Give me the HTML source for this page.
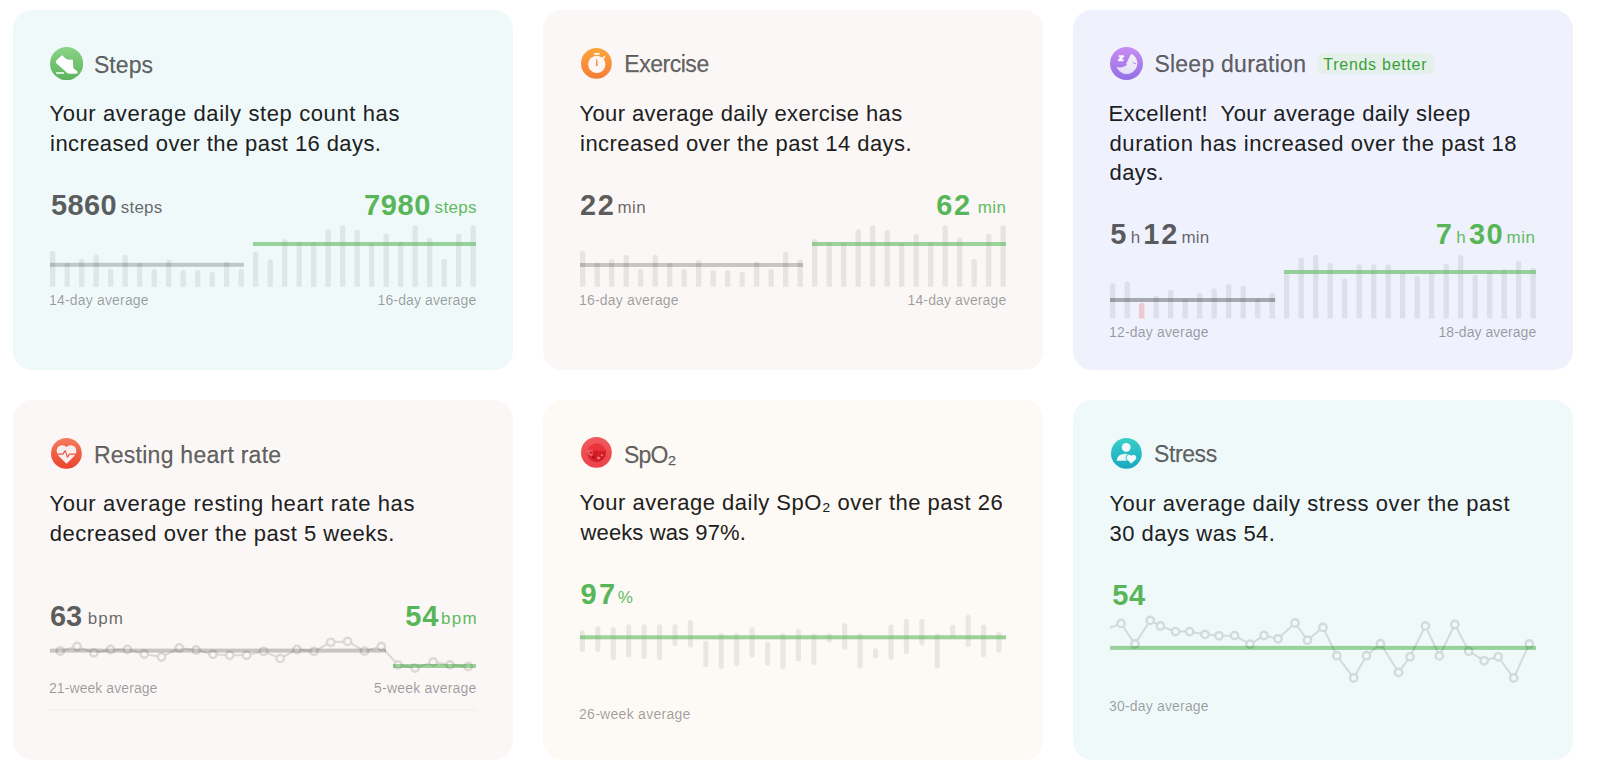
<!DOCTYPE html>
<html><head><meta charset="utf-8"><title>Health trends</title>
<style>
html,body{margin:0;padding:0;background:#fff;}
body{width:1597px;height:773px;position:relative;overflow:hidden;font-family:'Liberation Sans', sans-serif;}
.card{position:absolute;width:500px;height:360px;border-radius:19px;}
.t{position:absolute;white-space:pre;line-height:1;font-family:'Liberation Sans', sans-serif;}
.ic{position:absolute;}
.badge{position:absolute;left:1317.7px;top:52.5px;width:116px;height:21.5px;border-radius:5px;background:#e6f0ea;}
svg.ch{position:absolute;left:0;top:0;}
</style></head><body>
<div class="card" style="left:13px;top:10px;background:#f0f9fa"></div>
<div class="card" style="left:543px;top:10px;background:#faf7f6"></div>
<div class="card" style="left:1073px;top:10px;background:#eff1fd"></div>
<div class="card" style="left:13px;top:400px;background:#faf7f6"></div>
<div class="card" style="left:543px;top:400px;background:#fdf9f4"></div>
<div class="card" style="left:1073px;top:400px;background:#f0f9fa"></div>
<div class="badge"></div>
<svg class="ch" width="1597" height="773" viewBox="0 0 1597 773">
<path d="M50.00 286.80V253.40A2.70 2.70 0 0 1 55.40 253.40V286.80Z" fill="rgba(0,0,0,0.075)"/>
<path d="M64.50 286.80V265.10A2.70 2.70 0 0 1 69.90 265.10V286.80Z" fill="rgba(0,0,0,0.075)"/>
<path d="M79.00 286.80V261.50A2.70 2.70 0 0 1 84.40 261.50V286.80Z" fill="rgba(0,0,0,0.075)"/>
<path d="M93.50 286.80V257.50A2.70 2.70 0 0 1 98.90 257.50V286.80Z" fill="rgba(0,0,0,0.075)"/>
<path d="M108.00 286.80V271.50A2.70 2.70 0 0 1 113.40 271.50V286.80Z" fill="rgba(0,0,0,0.075)"/>
<path d="M122.50 286.80V257.50A2.70 2.70 0 0 1 127.90 257.50V286.80Z" fill="rgba(0,0,0,0.075)"/>
<path d="M137.00 286.80V265.10A2.70 2.70 0 0 1 142.40 265.10V286.80Z" fill="rgba(0,0,0,0.075)"/>
<path d="M151.50 286.80V271.50A2.70 2.70 0 0 1 156.90 271.50V286.80Z" fill="rgba(0,0,0,0.075)"/>
<path d="M166.00 286.80V262.40A2.70 2.70 0 0 1 171.40 262.40V286.80Z" fill="rgba(0,0,0,0.075)"/>
<path d="M180.50 286.80V272.70A2.70 2.70 0 0 1 185.90 272.70V286.80Z" fill="rgba(0,0,0,0.075)"/>
<path d="M195.00 286.80V272.70A2.70 2.70 0 0 1 200.40 272.70V286.80Z" fill="rgba(0,0,0,0.075)"/>
<path d="M209.50 286.80V274.50A2.70 2.70 0 0 1 214.90 274.50V286.80Z" fill="rgba(0,0,0,0.075)"/>
<path d="M224.00 286.80V264.20A2.70 2.70 0 0 1 229.40 264.20V286.80Z" fill="rgba(0,0,0,0.075)"/>
<path d="M238.50 286.80V271.50A2.70 2.70 0 0 1 243.90 271.50V286.80Z" fill="rgba(0,0,0,0.075)"/>
<path d="M253.00 286.80V254.30A2.70 2.70 0 0 1 258.40 254.30V286.80Z" fill="rgba(0,0,0,0.075)"/>
<path d="M267.50 286.80V262.00A2.70 2.70 0 0 1 272.90 262.00V286.80Z" fill="rgba(0,0,0,0.075)"/>
<path d="M282.00 286.80V241.60A2.70 2.70 0 0 1 287.40 241.60V286.80Z" fill="rgba(0,0,0,0.075)"/>
<path d="M296.50 286.80V244.30A2.70 2.70 0 0 1 301.90 244.30V286.80Z" fill="rgba(0,0,0,0.075)"/>
<path d="M311.00 286.80V244.80A2.70 2.70 0 0 1 316.40 244.80V286.80Z" fill="rgba(0,0,0,0.075)"/>
<path d="M325.50 286.80V232.00A2.70 2.70 0 0 1 330.90 232.00V286.80Z" fill="rgba(0,0,0,0.075)"/>
<path d="M340.00 286.80V228.00A2.70 2.70 0 0 1 345.40 228.00V286.80Z" fill="rgba(0,0,0,0.075)"/>
<path d="M354.50 286.80V232.50A2.70 2.70 0 0 1 359.90 232.50V286.80Z" fill="rgba(0,0,0,0.075)"/>
<path d="M369.00 286.80V245.20A2.70 2.70 0 0 1 374.40 245.20V286.80Z" fill="rgba(0,0,0,0.075)"/>
<path d="M383.50 286.80V236.50A2.70 2.70 0 0 1 388.90 236.50V286.80Z" fill="rgba(0,0,0,0.075)"/>
<path d="M398.00 286.80V244.30A2.70 2.70 0 0 1 403.40 244.30V286.80Z" fill="rgba(0,0,0,0.075)"/>
<path d="M412.50 286.80V228.00A2.70 2.70 0 0 1 417.90 228.00V286.80Z" fill="rgba(0,0,0,0.075)"/>
<path d="M427.00 286.80V240.30A2.70 2.70 0 0 1 432.40 240.30V286.80Z" fill="rgba(0,0,0,0.075)"/>
<path d="M441.50 286.80V261.50A2.70 2.70 0 0 1 446.90 261.50V286.80Z" fill="rgba(0,0,0,0.075)"/>
<path d="M456.00 286.80V236.10A2.70 2.70 0 0 1 461.40 236.10V286.80Z" fill="rgba(0,0,0,0.075)"/>
<path d="M470.50 286.80V228.00A2.70 2.70 0 0 1 475.90 228.00V286.80Z" fill="rgba(0,0,0,0.075)"/>
<path d="M580.00 286.80V253.40A2.70 2.70 0 0 1 585.40 253.40V286.80Z" fill="rgba(0,0,0,0.075)"/>
<path d="M594.50 286.80V265.10A2.70 2.70 0 0 1 599.90 265.10V286.80Z" fill="rgba(0,0,0,0.075)"/>
<path d="M609.00 286.80V261.50A2.70 2.70 0 0 1 614.40 261.50V286.80Z" fill="rgba(0,0,0,0.075)"/>
<path d="M623.50 286.80V257.50A2.70 2.70 0 0 1 628.90 257.50V286.80Z" fill="rgba(0,0,0,0.075)"/>
<path d="M638.00 286.80V271.50A2.70 2.70 0 0 1 643.40 271.50V286.80Z" fill="rgba(0,0,0,0.075)"/>
<path d="M652.50 286.80V257.50A2.70 2.70 0 0 1 657.90 257.50V286.80Z" fill="rgba(0,0,0,0.075)"/>
<path d="M667.00 286.80V265.10A2.70 2.70 0 0 1 672.40 265.10V286.80Z" fill="rgba(0,0,0,0.075)"/>
<path d="M681.50 286.80V271.50A2.70 2.70 0 0 1 686.90 271.50V286.80Z" fill="rgba(0,0,0,0.075)"/>
<path d="M696.00 286.80V262.40A2.70 2.70 0 0 1 701.40 262.40V286.80Z" fill="rgba(0,0,0,0.075)"/>
<path d="M710.50 286.80V272.70A2.70 2.70 0 0 1 715.90 272.70V286.80Z" fill="rgba(0,0,0,0.075)"/>
<path d="M725.00 286.80V272.70A2.70 2.70 0 0 1 730.40 272.70V286.80Z" fill="rgba(0,0,0,0.075)"/>
<path d="M739.50 286.80V274.50A2.70 2.70 0 0 1 744.90 274.50V286.80Z" fill="rgba(0,0,0,0.075)"/>
<path d="M754.00 286.80V264.20A2.70 2.70 0 0 1 759.40 264.20V286.80Z" fill="rgba(0,0,0,0.075)"/>
<path d="M768.50 286.80V271.50A2.70 2.70 0 0 1 773.90 271.50V286.80Z" fill="rgba(0,0,0,0.075)"/>
<path d="M783.00 286.80V254.30A2.70 2.70 0 0 1 788.40 254.30V286.80Z" fill="rgba(0,0,0,0.075)"/>
<path d="M797.50 286.80V262.00A2.70 2.70 0 0 1 802.90 262.00V286.80Z" fill="rgba(0,0,0,0.075)"/>
<path d="M812.00 286.80V241.60A2.70 2.70 0 0 1 817.40 241.60V286.80Z" fill="rgba(0,0,0,0.075)"/>
<path d="M826.50 286.80V244.30A2.70 2.70 0 0 1 831.90 244.30V286.80Z" fill="rgba(0,0,0,0.075)"/>
<path d="M841.00 286.80V244.80A2.70 2.70 0 0 1 846.40 244.80V286.80Z" fill="rgba(0,0,0,0.075)"/>
<path d="M855.50 286.80V232.00A2.70 2.70 0 0 1 860.90 232.00V286.80Z" fill="rgba(0,0,0,0.075)"/>
<path d="M870.00 286.80V228.00A2.70 2.70 0 0 1 875.40 228.00V286.80Z" fill="rgba(0,0,0,0.075)"/>
<path d="M884.50 286.80V232.50A2.70 2.70 0 0 1 889.90 232.50V286.80Z" fill="rgba(0,0,0,0.075)"/>
<path d="M899.00 286.80V245.20A2.70 2.70 0 0 1 904.40 245.20V286.80Z" fill="rgba(0,0,0,0.075)"/>
<path d="M913.50 286.80V236.50A2.70 2.70 0 0 1 918.90 236.50V286.80Z" fill="rgba(0,0,0,0.075)"/>
<path d="M928.00 286.80V244.30A2.70 2.70 0 0 1 933.40 244.30V286.80Z" fill="rgba(0,0,0,0.075)"/>
<path d="M942.50 286.80V228.00A2.70 2.70 0 0 1 947.90 228.00V286.80Z" fill="rgba(0,0,0,0.075)"/>
<path d="M957.00 286.80V240.30A2.70 2.70 0 0 1 962.40 240.30V286.80Z" fill="rgba(0,0,0,0.075)"/>
<path d="M971.50 286.80V261.50A2.70 2.70 0 0 1 976.90 261.50V286.80Z" fill="rgba(0,0,0,0.075)"/>
<path d="M986.00 286.80V236.10A2.70 2.70 0 0 1 991.40 236.10V286.80Z" fill="rgba(0,0,0,0.075)"/>
<path d="M1000.50 286.80V228.00A2.70 2.70 0 0 1 1005.90 228.00V286.80Z" fill="rgba(0,0,0,0.075)"/>
<rect x="50.00" y="262.80" width="194.00" height="4.00" rx="0" fill="rgba(0,0,0,0.2)"/>
<rect x="253.00" y="242.00" width="223.00" height="4.00" rx="0" fill="rgba(90,185,90,0.6)"/>
<rect x="580.00" y="263.00" width="223.00" height="4.00" rx="0" fill="rgba(0,0,0,0.2)"/>
<rect x="812.00" y="242.00" width="194.00" height="4.00" rx="0" fill="rgba(90,185,90,0.6)"/>
<path d="M1110.00 318.60V285.70A2.70 2.70 0 0 1 1115.40 285.70V318.60Z" fill="rgba(0,0,0,0.075)"/>
<path d="M1124.50 318.60V284.30A2.70 2.70 0 0 1 1129.90 284.30V318.60Z" fill="rgba(0,0,0,0.075)"/>
<path d="M1139.00 318.60V305.50A2.70 2.70 0 0 1 1144.40 305.50V318.60Z" fill="rgba(240,110,110,0.3)"/>
<path d="M1153.50 318.60V298.20A2.70 2.70 0 0 1 1158.90 298.20V318.60Z" fill="rgba(0,0,0,0.075)"/>
<path d="M1168.00 318.60V292.40A2.70 2.70 0 0 1 1173.40 292.40V318.60Z" fill="rgba(0,0,0,0.075)"/>
<path d="M1182.50 318.60V301.10A2.70 2.70 0 0 1 1187.90 301.10V318.60Z" fill="rgba(0,0,0,0.075)"/>
<path d="M1197.00 318.60V295.10A2.70 2.70 0 0 1 1202.40 295.10V318.60Z" fill="rgba(0,0,0,0.075)"/>
<path d="M1211.50 318.60V291.00A2.70 2.70 0 0 1 1216.90 291.00V318.60Z" fill="rgba(0,0,0,0.075)"/>
<path d="M1226.00 318.60V286.60A2.70 2.70 0 0 1 1231.40 286.60V318.60Z" fill="rgba(0,0,0,0.075)"/>
<path d="M1240.50 318.60V288.40A2.70 2.70 0 0 1 1245.90 288.40V318.60Z" fill="rgba(0,0,0,0.075)"/>
<path d="M1255.00 318.60V301.10A2.70 2.70 0 0 1 1260.40 301.10V318.60Z" fill="rgba(0,0,0,0.075)"/>
<path d="M1269.50 318.60V295.10A2.70 2.70 0 0 1 1274.90 295.10V318.60Z" fill="rgba(0,0,0,0.075)"/>
<path d="M1284.00 318.60V275.70A2.70 2.70 0 0 1 1289.40 275.70V318.60Z" fill="rgba(0,0,0,0.075)"/>
<path d="M1298.50 318.60V260.20A2.70 2.70 0 0 1 1303.90 260.20V318.60Z" fill="rgba(0,0,0,0.075)"/>
<path d="M1313.00 318.60V257.40A2.70 2.70 0 0 1 1318.40 257.40V318.60Z" fill="rgba(0,0,0,0.075)"/>
<path d="M1327.50 318.60V265.80A2.70 2.70 0 0 1 1332.90 265.80V318.60Z" fill="rgba(0,0,0,0.075)"/>
<path d="M1342.00 318.60V281.20A2.70 2.70 0 0 1 1347.40 281.20V318.60Z" fill="rgba(0,0,0,0.075)"/>
<path d="M1356.50 318.60V267.00A2.70 2.70 0 0 1 1361.90 267.00V318.60Z" fill="rgba(0,0,0,0.075)"/>
<path d="M1371.00 318.60V267.00A2.70 2.70 0 0 1 1376.40 267.00V318.60Z" fill="rgba(0,0,0,0.075)"/>
<path d="M1385.50 318.60V267.00A2.70 2.70 0 0 1 1390.90 267.00V318.60Z" fill="rgba(0,0,0,0.075)"/>
<path d="M1400.00 318.60V273.40A2.70 2.70 0 0 1 1405.40 273.40V318.60Z" fill="rgba(0,0,0,0.075)"/>
<path d="M1414.50 318.60V278.80A2.70 2.70 0 0 1 1419.90 278.80V318.60Z" fill="rgba(0,0,0,0.075)"/>
<path d="M1429.00 318.60V273.40A2.70 2.70 0 0 1 1434.40 273.40V318.60Z" fill="rgba(0,0,0,0.075)"/>
<path d="M1443.50 318.60V266.10A2.70 2.70 0 0 1 1448.90 266.10V318.60Z" fill="rgba(0,0,0,0.075)"/>
<path d="M1458.00 318.60V257.60A2.70 2.70 0 0 1 1463.40 257.60V318.60Z" fill="rgba(0,0,0,0.075)"/>
<path d="M1472.50 318.60V277.40A2.70 2.70 0 0 1 1477.90 277.40V318.60Z" fill="rgba(0,0,0,0.075)"/>
<path d="M1487.00 318.60V273.40A2.70 2.70 0 0 1 1492.40 273.40V318.60Z" fill="rgba(0,0,0,0.075)"/>
<path d="M1501.50 318.60V271.60A2.70 2.70 0 0 1 1506.90 271.60V318.60Z" fill="rgba(0,0,0,0.075)"/>
<path d="M1516.00 318.60V263.10A2.70 2.70 0 0 1 1521.40 263.10V318.60Z" fill="rgba(0,0,0,0.075)"/>
<path d="M1530.50 318.60V270.30A2.70 2.70 0 0 1 1535.90 270.30V318.60Z" fill="rgba(0,0,0,0.075)"/>
<rect x="1110.00" y="298.00" width="165.20" height="4.00" rx="0" fill="rgba(0,0,0,0.3)"/>
<rect x="1283.90" y="270.00" width="252.10" height="4.00" rx="0" fill="rgba(90,185,90,0.6)"/>
<rect x="50.00" y="648.60" width="336.00" height="4.00" rx="0" fill="rgba(0,0,0,0.2)"/>
<rect x="393.00" y="664.00" width="83.00" height="4.00" rx="0" fill="rgba(90,185,90,0.6)"/>
<path d="M64.65 649.82L72.65 647.68M81.41 648.12L89.59 651.18M98.41 651.91L106.09 650.39M115.20 649.50L122.80 649.50M131.84 650.69L139.76 652.81M148.73 654.79L156.97 656.21M165.61 654.92L175.19 650.08M183.87 648.54L191.63 649.46M200.66 651.14L208.54 653.16M217.59 654.57L225.21 655.03M234.40 655.30L242.00 655.30M251.08 654.25L259.12 652.35M267.83 653.11L275.97 656.59M284.26 656.25L292.94 651.65M301.57 649.98L309.43 650.82M318.05 649.13L326.75 644.47M335.39 642.05L343.01 641.65M351.59 643.69L360.51 648.81M368.93 649.86L376.87 647.64M384.39 649.81L395.01 661.49M402.62 665.76L410.48 667.24M419.35 666.62L428.85 663.38M437.73 662.71L445.47 664.09M454.58 665.30L463.72 666.10" fill="none" stroke="rgba(0,0,0,0.12)" stroke-width="2"/>
<circle cx="60.2" cy="651" r="3.7" fill="none" stroke="rgba(0,0,0,0.12)" stroke-width="2.4"/>
<circle cx="77.1" cy="646.5" r="3.7" fill="none" stroke="rgba(0,0,0,0.12)" stroke-width="2.4"/>
<circle cx="93.9" cy="652.8" r="3.7" fill="none" stroke="rgba(0,0,0,0.12)" stroke-width="2.4"/>
<circle cx="110.6" cy="649.5" r="3.7" fill="none" stroke="rgba(0,0,0,0.12)" stroke-width="2.4"/>
<circle cx="127.4" cy="649.5" r="3.7" fill="none" stroke="rgba(0,0,0,0.12)" stroke-width="2.4"/>
<circle cx="144.2" cy="654" r="3.7" fill="none" stroke="rgba(0,0,0,0.12)" stroke-width="2.4"/>
<circle cx="161.5" cy="657" r="3.7" fill="none" stroke="rgba(0,0,0,0.12)" stroke-width="2.4"/>
<circle cx="179.3" cy="648" r="3.7" fill="none" stroke="rgba(0,0,0,0.12)" stroke-width="2.4"/>
<circle cx="196.2" cy="650" r="3.7" fill="none" stroke="rgba(0,0,0,0.12)" stroke-width="2.4"/>
<circle cx="213" cy="654.3" r="3.7" fill="none" stroke="rgba(0,0,0,0.12)" stroke-width="2.4"/>
<circle cx="229.8" cy="655.3" r="3.7" fill="none" stroke="rgba(0,0,0,0.12)" stroke-width="2.4"/>
<circle cx="246.6" cy="655.3" r="3.7" fill="none" stroke="rgba(0,0,0,0.12)" stroke-width="2.4"/>
<circle cx="263.6" cy="651.3" r="3.7" fill="none" stroke="rgba(0,0,0,0.12)" stroke-width="2.4"/>
<circle cx="280.2" cy="658.4" r="3.7" fill="none" stroke="rgba(0,0,0,0.12)" stroke-width="2.4"/>
<circle cx="297" cy="649.5" r="3.7" fill="none" stroke="rgba(0,0,0,0.12)" stroke-width="2.4"/>
<circle cx="314" cy="651.3" r="3.7" fill="none" stroke="rgba(0,0,0,0.12)" stroke-width="2.4"/>
<circle cx="330.8" cy="642.3" r="3.7" fill="none" stroke="rgba(0,0,0,0.12)" stroke-width="2.4"/>
<circle cx="347.6" cy="641.4" r="3.7" fill="none" stroke="rgba(0,0,0,0.12)" stroke-width="2.4"/>
<circle cx="364.5" cy="651.1" r="3.7" fill="none" stroke="rgba(0,0,0,0.12)" stroke-width="2.4"/>
<circle cx="381.3" cy="646.4" r="3.7" fill="none" stroke="rgba(0,0,0,0.12)" stroke-width="2.4"/>
<circle cx="398.1" cy="664.9" r="3.7" fill="none" stroke="rgba(0,0,0,0.12)" stroke-width="2.4"/>
<circle cx="415" cy="668.1" r="3.7" fill="none" stroke="rgba(0,0,0,0.12)" stroke-width="2.4"/>
<circle cx="433.2" cy="661.9" r="3.7" fill="none" stroke="rgba(0,0,0,0.12)" stroke-width="2.4"/>
<circle cx="450" cy="664.9" r="3.7" fill="none" stroke="rgba(0,0,0,0.12)" stroke-width="2.4"/>
<circle cx="468.3" cy="666.5" r="3.7" fill="none" stroke="rgba(0,0,0,0.12)" stroke-width="2.4"/>
<rect x="49.50" y="709.50" width="427.00" height="1.00" rx="0" fill="rgba(0,0,0,0.04)"/>
<rect x="579.80" y="630.00" width="5.20" height="21.80" rx="2.60" fill="rgba(0,0,0,0.075)"/>
<rect x="595.23" y="625.90" width="5.20" height="25.90" rx="2.60" fill="rgba(0,0,0,0.075)"/>
<rect x="610.66" y="626.90" width="5.20" height="33.10" rx="2.60" fill="rgba(0,0,0,0.075)"/>
<rect x="626.09" y="624.20" width="5.20" height="33.20" rx="2.60" fill="rgba(0,0,0,0.075)"/>
<rect x="641.52" y="624.20" width="5.20" height="34.80" rx="2.60" fill="rgba(0,0,0,0.075)"/>
<rect x="656.95" y="624.20" width="5.20" height="35.80" rx="2.60" fill="rgba(0,0,0,0.075)"/>
<rect x="672.38" y="624.20" width="5.20" height="22.00" rx="2.60" fill="rgba(0,0,0,0.075)"/>
<rect x="687.81" y="620.10" width="5.20" height="27.50" rx="2.60" fill="rgba(0,0,0,0.075)"/>
<rect x="703.24" y="640.40" width="5.20" height="26.90" rx="2.60" fill="rgba(0,0,0,0.075)"/>
<rect x="718.67" y="633.10" width="5.20" height="35.90" rx="2.60" fill="rgba(0,0,0,0.075)"/>
<rect x="734.10" y="633.10" width="5.20" height="33.20" rx="2.60" fill="rgba(0,0,0,0.075)"/>
<rect x="749.53" y="626.90" width="5.20" height="30.50" rx="2.60" fill="rgba(0,0,0,0.075)"/>
<rect x="764.96" y="641.40" width="5.20" height="24.30" rx="2.60" fill="rgba(0,0,0,0.075)"/>
<rect x="780.39" y="633.10" width="5.20" height="35.90" rx="2.60" fill="rgba(0,0,0,0.075)"/>
<rect x="795.82" y="628.90" width="5.20" height="32.40" rx="2.60" fill="rgba(0,0,0,0.075)"/>
<rect x="811.25" y="633.20" width="5.20" height="31.70" rx="2.60" fill="rgba(0,0,0,0.075)"/>
<rect x="826.68" y="633.20" width="5.20" height="9.40" rx="2.60" fill="rgba(0,0,0,0.075)"/>
<rect x="842.11" y="623.10" width="5.20" height="26.70" rx="2.60" fill="rgba(0,0,0,0.075)"/>
<rect x="857.54" y="633.20" width="5.20" height="35.30" rx="2.60" fill="rgba(0,0,0,0.075)"/>
<rect x="872.97" y="648.30" width="5.20" height="10.10" rx="2.60" fill="rgba(0,0,0,0.075)"/>
<rect x="888.40" y="624.60" width="5.20" height="35.30" rx="2.60" fill="rgba(0,0,0,0.075)"/>
<rect x="903.83" y="618.80" width="5.20" height="35.30" rx="2.60" fill="rgba(0,0,0,0.075)"/>
<rect x="919.26" y="618.80" width="5.20" height="26.70" rx="2.60" fill="rgba(0,0,0,0.075)"/>
<rect x="934.69" y="633.20" width="5.20" height="35.30" rx="2.60" fill="rgba(0,0,0,0.075)"/>
<rect x="950.12" y="624.60" width="5.20" height="12.90" rx="2.60" fill="rgba(0,0,0,0.075)"/>
<rect x="965.55" y="614.80" width="5.20" height="32.10" rx="2.60" fill="rgba(0,0,0,0.075)"/>
<rect x="980.98" y="624.60" width="5.20" height="32.40" rx="2.60" fill="rgba(0,0,0,0.075)"/>
<rect x="996.41" y="631.80" width="5.20" height="20.90" rx="2.60" fill="rgba(0,0,0,0.075)"/>
<rect x="580.00" y="635.30" width="426.00" height="4.00" rx="0" fill="rgba(90,185,90,0.6)"/>
<rect x="1110.00" y="645.90" width="426.00" height="4.00" rx="0" fill="rgba(90,185,90,0.6)"/>
<path d="M1110.00 627.80L1116.73 625.11M1123.59 627.20L1132.41 640.20M1137.50 640.14L1147.80 624.26M1154.32 622.63L1156.38 623.77M1164.71 627.60L1171.19 630.00M1180.10 631.60L1185.00 631.60M1194.13 632.42L1200.47 633.58M1209.58 634.86L1214.42 635.34M1223.60 635.74L1230.00 635.66M1238.62 637.84L1245.98 641.96M1253.91 641.77L1260.09 637.93M1268.48 636.56L1273.52 637.74M1281.37 635.67L1291.63 626.13M1297.70 626.72L1304.80 636.48M1311.04 637.26L1319.36 630.34M1324.94 631.52L1334.86 651.58M1339.67 659.37L1350.93 674.33M1355.99 674.01L1364.21 659.69M1369.99 652.71L1377.01 646.69M1382.95 647.59L1396.15 668.51M1401.31 668.69L1407.29 660.51M1412.05 652.68L1423.35 630.02M1427.35 630.07L1437.45 651.73M1441.43 651.77L1452.77 628.63M1456.92 628.58L1466.58 647.12M1472.61 653.62L1480.29 658.38M1488.62 659.54L1493.78 658.06M1500.91 660.51L1510.99 674.29M1515.62 673.82L1527.38 648.18" fill="none" stroke="rgba(0,0,0,0.12)" stroke-width="2"/>
<circle cx="1121" cy="623.4" r="3.7" fill="none" stroke="rgba(0,0,0,0.12)" stroke-width="2.4"/>
<circle cx="1135" cy="644" r="3.7" fill="none" stroke="rgba(0,0,0,0.12)" stroke-width="2.4"/>
<circle cx="1150.3" cy="620.4" r="3.7" fill="none" stroke="rgba(0,0,0,0.12)" stroke-width="2.4"/>
<circle cx="1160.4" cy="626" r="3.7" fill="none" stroke="rgba(0,0,0,0.12)" stroke-width="2.4"/>
<circle cx="1175.5" cy="631.6" r="3.7" fill="none" stroke="rgba(0,0,0,0.12)" stroke-width="2.4"/>
<circle cx="1189.6" cy="631.6" r="3.7" fill="none" stroke="rgba(0,0,0,0.12)" stroke-width="2.4"/>
<circle cx="1205" cy="634.4" r="3.7" fill="none" stroke="rgba(0,0,0,0.12)" stroke-width="2.4"/>
<circle cx="1219" cy="635.8" r="3.7" fill="none" stroke="rgba(0,0,0,0.12)" stroke-width="2.4"/>
<circle cx="1234.6" cy="635.6" r="3.7" fill="none" stroke="rgba(0,0,0,0.12)" stroke-width="2.4"/>
<circle cx="1250" cy="644.2" r="3.7" fill="none" stroke="rgba(0,0,0,0.12)" stroke-width="2.4"/>
<circle cx="1264" cy="635.5" r="3.7" fill="none" stroke="rgba(0,0,0,0.12)" stroke-width="2.4"/>
<circle cx="1278" cy="638.8" r="3.7" fill="none" stroke="rgba(0,0,0,0.12)" stroke-width="2.4"/>
<circle cx="1295" cy="623" r="3.7" fill="none" stroke="rgba(0,0,0,0.12)" stroke-width="2.4"/>
<circle cx="1307.5" cy="640.2" r="3.7" fill="none" stroke="rgba(0,0,0,0.12)" stroke-width="2.4"/>
<circle cx="1322.9" cy="627.4" r="3.7" fill="none" stroke="rgba(0,0,0,0.12)" stroke-width="2.4"/>
<circle cx="1336.9" cy="655.7" r="3.7" fill="none" stroke="rgba(0,0,0,0.12)" stroke-width="2.4"/>
<circle cx="1353.7" cy="678" r="3.7" fill="none" stroke="rgba(0,0,0,0.12)" stroke-width="2.4"/>
<circle cx="1366.5" cy="655.7" r="3.7" fill="none" stroke="rgba(0,0,0,0.12)" stroke-width="2.4"/>
<circle cx="1380.5" cy="643.7" r="3.7" fill="none" stroke="rgba(0,0,0,0.12)" stroke-width="2.4"/>
<circle cx="1398.6" cy="672.4" r="3.7" fill="none" stroke="rgba(0,0,0,0.12)" stroke-width="2.4"/>
<circle cx="1410" cy="656.8" r="3.7" fill="none" stroke="rgba(0,0,0,0.12)" stroke-width="2.4"/>
<circle cx="1425.4" cy="625.9" r="3.7" fill="none" stroke="rgba(0,0,0,0.12)" stroke-width="2.4"/>
<circle cx="1439.4" cy="655.9" r="3.7" fill="none" stroke="rgba(0,0,0,0.12)" stroke-width="2.4"/>
<circle cx="1454.8" cy="624.5" r="3.7" fill="none" stroke="rgba(0,0,0,0.12)" stroke-width="2.4"/>
<circle cx="1468.7" cy="651.2" r="3.7" fill="none" stroke="rgba(0,0,0,0.12)" stroke-width="2.4"/>
<circle cx="1484.2" cy="660.8" r="3.7" fill="none" stroke="rgba(0,0,0,0.12)" stroke-width="2.4"/>
<circle cx="1498.2" cy="656.8" r="3.7" fill="none" stroke="rgba(0,0,0,0.12)" stroke-width="2.4"/>
<circle cx="1513.7" cy="678" r="3.7" fill="none" stroke="rgba(0,0,0,0.12)" stroke-width="2.4"/>
<circle cx="1529.3" cy="644" r="3.7" fill="none" stroke="rgba(0,0,0,0.12)" stroke-width="2.4"/>
</svg>
<svg class="ic" style="left:50.00px;top:46.60px;width:33.2px;height:33.2px" viewBox="0 0 32 32">
<defs><linearGradient id="g0" x1="0" y1="0" x2="0" y2="1"><stop offset="0" stop-color="#8ad486"/><stop offset="1" stop-color="#5cb45c"/></linearGradient></defs>
<circle cx="16" cy="16" r="16" fill="url(#g0)"/><path d="M6.1 13.0 L10.9 8.4 Q11.6 7.7 12.3 8.4 Q13.4 9.8 14.6 10.9 Q16.3 12.3 19.0 12.2 L21.2 12.1 Q22.0 12.1 22.1 13.0 L22.4 19.2 Q22.6 21.0 24.4 22.0 L25.9 22.9 Q27.0 23.7 26.6 24.8 Q26.2 25.7 25.0 25.7 L18.5 25.7 Q17.4 25.7 16.6 25.0 L6.1 15.6 Q5.1 14.3 6.1 13.0 Z" fill="#fff"/><rect x="5.9" y="24.4" width="7.7" height="1.3" rx="0.5" fill="#fff"/></svg>
<svg class="ic" style="left:581.20px;top:48.00px;width:30.8px;height:30.8px" viewBox="0 0 32 32">
<defs><linearGradient id="g1" x1="0" y1="0" x2="0" y2="1"><stop offset="0" stop-color="#fba53b"/><stop offset="1" stop-color="#f57d35"/></linearGradient></defs>
<circle cx="16" cy="16" r="16" fill="url(#g1)"/><circle cx="16.4" cy="17" r="9.0" fill="#fdf6f2"/><rect x="13.3" y="5.2" width="6.2" height="1.9" rx="0.5" fill="#fdf6f2"/><path d="M22.0 9.9 L24.8 7.9 L25.4 8.6 L23.6 11.6 Z" fill="#fdf6f2"/><rect x="15.7" y="11.6" width="1.4" height="5.8" rx="0.7" fill="#f68a38"/><circle cx="16.4" cy="17.6" r="1.1" fill="#f68a38"/></svg>
<svg class="ic" style="left:1110.20px;top:46.80px;width:33.0px;height:33.0px" viewBox="0 0 32 32">
<defs><linearGradient id="g2" x1="0" y1="0" x2="0" y2="1"><stop offset="0" stop-color="#c98df2"/><stop offset="1" stop-color="#916fe6"/></linearGradient></defs>
<circle cx="16" cy="16" r="16" fill="url(#g2)"/><defs><linearGradient id="mg" x1="0" y1="0" x2="0" y2="1"><stop offset="0" stop-color="#f6f2fc"/><stop offset="1" stop-color="#e6def6"/></linearGradient></defs><path d="M20.7 6.6 A10.3 10.3 0 1 1 6.5 19.4 Q9 20.2 11.5 19.6 Q14 18.9 15.4 18.1 L16.4 17.2 L15.7 16.3 Q17.5 12.6 18.6 10.5 Q19.4 8.5 20.7 6.6 Z" fill="url(#mg)"/><path d="M8.4 8.9 H12.9 L8.5 12.8 H13.1" fill="none" stroke="#fbf8ff" stroke-width="1.9" stroke-linejoin="round"/><path d="M22.2 15 Q23.2 16.4 24.9 16.2" fill="none" stroke="#9f7be6" stroke-width="0.8" stroke-linecap="round"/></svg>
<svg class="ic" style="left:51.20px;top:438.00px;width:30.8px;height:30.8px" viewBox="0 0 32 32">
<defs><linearGradient id="g3" x1="0" y1="0" x2="0" y2="1"><stop offset="0" stop-color="#f67c5c"/><stop offset="1" stop-color="#e8432c"/></linearGradient></defs>
<circle cx="16" cy="16" r="16" fill="url(#g3)"/><path d="M16.1 26.8 L8.0 18.6 Q5.9 16.3 5.9 13.3 Q6 8.4 10.8 7.5 Q14 7.1 16.1 9.4 Q18.2 7.1 21.4 7.5 Q26.3 8.4 26.3 13.3 Q26.3 16.3 24.2 18.6 Z" fill="#f8eeee"/><path d="M6.6 16.8 H12.3 L14.75 13.1 L17.2 20.0 L19.05 16.8 H25.6" fill="none" stroke="#ea553d" stroke-width="1.2" stroke-linejoin="round"/></svg>
<svg class="ic" style="left:581.20px;top:437.30px;width:30.8px;height:30.8px" viewBox="0 0 32 32">
<defs><linearGradient id="g4" x1="0" y1="0" x2="0" y2="1"><stop offset="0" stop-color="#f25a5e"/><stop offset="1" stop-color="#ea4248"/></linearGradient></defs>
<circle cx="16" cy="16" r="16" fill="url(#g4)"/><circle cx="16.36" cy="16.23" r="9.7" fill="#e9343c"/><path d="M6.87 14.2 Q11.5 13.0 16.4 14.0 Q21.5 15.0 25.78 13.9 A9.7 9.7 0 1 1 6.87 14.2 Z" fill="#d51f2a"/><path d="M5.2 14.0 Q8.8 12.9 12.4 13.4 Q11.4 17 12.3 20.6 Q6.6 18.8 5.2 14.0 Z" fill="#ef5c62"/><circle cx="10.2" cy="16.2" r="1.2" fill="#c0141d"/><circle cx="15.8" cy="17.0" r="1.0" fill="#b8121b"/><circle cx="13.1" cy="20.8" r="1.8" fill="#b5101a"/><circle cx="18.3" cy="21.8" r="1.3" fill="#f48b90"/><circle cx="21.7" cy="18.9" r="0.9" fill="#f48b90"/></svg>
<svg class="ic" style="left:1111.20px;top:438.10px;width:30.8px;height:30.8px" viewBox="0 0 32 32">
<defs><linearGradient id="g5" x1="0" y1="0" x2="0" y2="1"><stop offset="0" stop-color="#39d0c8"/><stop offset="1" stop-color="#1aa7c1"/></linearGradient></defs>
<circle cx="16" cy="16" r="16" fill="url(#g5)"/><defs><linearGradient id="bg6" x1="0" y1="0" x2="1" y2="0"><stop offset="0" stop-color="#f4fbfb"/><stop offset="1" stop-color="#cdeef0"/></linearGradient></defs><circle cx="15.8" cy="9.7" r="4.6" fill="#f2fbfb"/><path d="M5.9 23.7 Q6.5 16.3 15.2 16.3 Q23.5 16.3 24.5 23.7 Z" fill="url(#bg6)"/><path d="M20.9 26.6 L17.0 22.7 Q15.6 21.2 16.3 19.4 Q17.1 17.4 19.0 17.5 Q20.3 17.6 21.2 18.8 Q22.1 17.6 23.4 17.5 Q25.4 17.4 26.1 19.4 Q26.8 21.2 25.3 22.7 Z" fill="#f2fbfb" stroke="#26b8c3" stroke-width="1.6" paint-order="stroke"/></svg>
<div class="t" style="left:93.90px;top:54.20px;font-size:23px;color:rgba(0,0,0,0.62);letter-spacing:0.100px;-webkit-text-stroke:0.25px rgba(0,0,0,0.62)">Steps</div>
<div class="t" style="left:49.40px;top:102.80px;font-size:22px;color:rgba(0,0,0,0.88);letter-spacing:0.606px;-webkit-text-stroke:0.12px rgba(0,0,0,0.88)">Your average daily step count has</div>
<div class="t" style="left:50.10px;top:132.90px;font-size:22px;color:rgba(0,0,0,0.88);letter-spacing:0.416px;-webkit-text-stroke:0.12px rgba(0,0,0,0.88)">increased over the past 16 days.</div>
<div class="t" style="left:50.90px;top:190.50px;font-size:29px;font-weight:700;color:rgba(0,0,0,0.64);letter-spacing:0.433px">5860</div>
<div class="t" style="left:120.70px;top:199.00px;font-size:17px;color:rgba(0,0,0,0.60);letter-spacing:0.250px">steps</div>
<div class="t" style="left:364.00px;top:190.50px;font-size:29px;font-weight:700;color:#58b658;letter-spacing:0.633px">7980</div>
<div class="t" style="left:434.60px;top:199.00px;font-size:17px;color:#63bb63;letter-spacing:0.325px">steps</div>
<div class="t" style="left:49.00px;top:292.60px;font-size:14px;color:rgba(0,0,0,0.38);letter-spacing:0.177px">14-day average</div>
<div class="t" style="left:377.60px;top:292.60px;font-size:14px;color:rgba(0,0,0,0.38);letter-spacing:0.100px">16-day average</div>
<div class="t" style="left:624.30px;top:52.80px;font-size:23px;color:rgba(0,0,0,0.62);letter-spacing:-0.471px;-webkit-text-stroke:0.25px rgba(0,0,0,0.62)">Exercise</div>
<div class="t" style="left:579.40px;top:102.60px;font-size:22px;color:rgba(0,0,0,0.88);letter-spacing:0.393px;-webkit-text-stroke:0.12px rgba(0,0,0,0.88)">Your average daily exercise has</div>
<div class="t" style="left:580.10px;top:132.80px;font-size:22px;color:rgba(0,0,0,0.88);letter-spacing:0.435px;-webkit-text-stroke:0.12px rgba(0,0,0,0.88)">increased over the past 14 days.</div>
<div class="t" style="left:579.90px;top:190.50px;font-size:29px;font-weight:700;color:rgba(0,0,0,0.64);letter-spacing:1.700px">22</div>
<div class="t" style="left:617.60px;top:199.00px;font-size:17px;color:rgba(0,0,0,0.60);letter-spacing:0.300px">min</div>
<div class="t" style="left:936.20px;top:190.50px;font-size:29px;font-weight:700;color:#58b658;letter-spacing:1.800px">62</div>
<div class="t" style="left:977.70px;top:199.00px;font-size:17px;color:#63bb63;letter-spacing:0.400px">min</div>
<div class="t" style="left:579.00px;top:292.60px;font-size:14px;color:rgba(0,0,0,0.38);letter-spacing:0.177px">16-day average</div>
<div class="t" style="left:907.60px;top:292.60px;font-size:14px;color:rgba(0,0,0,0.38);letter-spacing:0.100px">14-day average</div>
<div class="t" style="left:1154.40px;top:52.70px;font-size:23px;color:rgba(0,0,0,0.62);letter-spacing:0.246px;-webkit-text-stroke:0.25px rgba(0,0,0,0.62)">Sleep duration</div>
<div class="t" style="left:1323.30px;top:57.10px;font-size:16px;color:#36a236;letter-spacing:0.725px">Trends better</div>
<div class="t" style="left:1108.40px;top:102.80px;font-size:22px;color:rgba(0,0,0,0.88);letter-spacing:0.417px;-webkit-text-stroke:0.12px rgba(0,0,0,0.88)">Excellent!  Your average daily sleep</div>
<div class="t" style="left:1109.60px;top:132.90px;font-size:22px;color:rgba(0,0,0,0.88);letter-spacing:0.539px;-webkit-text-stroke:0.12px rgba(0,0,0,0.88)">duration has increased over the past 18</div>
<div class="t" style="left:1109.60px;top:162.00px;font-size:22px;color:rgba(0,0,0,0.88);letter-spacing:0.375px;-webkit-text-stroke:0.12px rgba(0,0,0,0.88)">days.</div>
<div class="t" style="left:1110.20px;top:220.00px;font-size:29px;font-weight:700;color:rgba(0,0,0,0.64);letter-spacing:0.000px">5</div>
<div class="t" style="left:1130.70px;top:228.60px;font-size:17px;color:rgba(0,0,0,0.60);letter-spacing:0.000px">h</div>
<div class="t" style="left:1143.30px;top:220.00px;font-size:29px;font-weight:700;color:rgba(0,0,0,0.64);letter-spacing:1.700px">12</div>
<div class="t" style="left:1181.40px;top:228.60px;font-size:17px;color:rgba(0,0,0,0.60);letter-spacing:0.150px">min</div>
<div class="t" style="left:1435.80px;top:220.00px;font-size:29px;font-weight:700;color:#58b658;letter-spacing:0.000px">7</div>
<div class="t" style="left:1456.20px;top:228.60px;font-size:17px;color:#63bb63;letter-spacing:0.000px">h</div>
<div class="t" style="left:1468.90px;top:220.00px;font-size:29px;font-weight:700;color:#58b658;letter-spacing:1.500px">30</div>
<div class="t" style="left:1506.40px;top:228.60px;font-size:17px;color:#63bb63;letter-spacing:0.600px">min</div>
<div class="t" style="left:1109.00px;top:324.80px;font-size:14px;color:rgba(0,0,0,0.38);letter-spacing:0.177px">12-day average</div>
<div class="t" style="left:1438.50px;top:324.80px;font-size:14px;color:rgba(0,0,0,0.38);letter-spacing:0.031px">18-day average</div>
<div class="t" style="left:93.90px;top:444.00px;font-size:23px;color:rgba(0,0,0,0.62);letter-spacing:0.259px;-webkit-text-stroke:0.25px rgba(0,0,0,0.62)">Resting heart rate</div>
<div class="t" style="left:49.40px;top:492.80px;font-size:22px;color:rgba(0,0,0,0.88);letter-spacing:0.618px;-webkit-text-stroke:0.12px rgba(0,0,0,0.88)">Your average resting heart rate has</div>
<div class="t" style="left:49.80px;top:522.70px;font-size:22px;color:rgba(0,0,0,0.88);letter-spacing:0.503px;-webkit-text-stroke:0.12px rgba(0,0,0,0.88)">decreased over the past 5 weeks.</div>
<div class="t" style="left:49.90px;top:601.50px;font-size:29px;font-weight:700;color:rgba(0,0,0,0.64);letter-spacing:0.100px">63</div>
<div class="t" style="left:87.80px;top:610.00px;font-size:17px;color:rgba(0,0,0,0.60);letter-spacing:1.050px">bpm</div>
<div class="t" style="left:405.20px;top:601.50px;font-size:29px;font-weight:700;color:#58b658;letter-spacing:0.900px">54</div>
<div class="t" style="left:440.90px;top:610.00px;font-size:17px;color:#63bb63;letter-spacing:1.300px">bpm</div>
<div class="t" style="left:49.00px;top:680.60px;font-size:14px;color:rgba(0,0,0,0.38);letter-spacing:0.071px">21-week average</div>
<div class="t" style="left:374.00px;top:680.60px;font-size:14px;color:rgba(0,0,0,0.38);letter-spacing:0.215px">5-week average</div>
<div class="t" style="left:624.00px;top:444.00px;font-size:23px;color:rgba(0,0,0,0.62);letter-spacing:-0.833px;-webkit-text-stroke:0.25px rgba(0,0,0,0.62)">SpO₂</div>
<div class="t" style="left:579.40px;top:492.40px;font-size:22px;color:rgba(0,0,0,0.88);letter-spacing:0.497px;-webkit-text-stroke:0.12px rgba(0,0,0,0.88)">Your average daily SpO₂ over the past 26</div>
<div class="t" style="left:580.60px;top:522.30px;font-size:22px;color:rgba(0,0,0,0.88);letter-spacing:0.100px;-webkit-text-stroke:0.12px rgba(0,0,0,0.88)">weeks was 97%.</div>
<div class="t" style="left:580.40px;top:580.20px;font-size:29px;font-weight:700;color:#58b658;letter-spacing:2.500px">97</div>
<div class="t" style="left:617.70px;top:588.70px;font-size:17px;color:#63bb63;letter-spacing:0.000px">%</div>
<div class="t" style="left:579.00px;top:707.00px;font-size:14px;color:rgba(0,0,0,0.38);letter-spacing:0.286px">26-week average</div>
<div class="t" style="left:1154.00px;top:442.60px;font-size:23px;color:rgba(0,0,0,0.62);letter-spacing:-0.400px;-webkit-text-stroke:0.25px rgba(0,0,0,0.62)">Stress</div>
<div class="t" style="left:1109.40px;top:492.80px;font-size:22px;color:rgba(0,0,0,0.88);letter-spacing:0.542px;-webkit-text-stroke:0.12px rgba(0,0,0,0.88)">Your average daily stress over the past</div>
<div class="t" style="left:1109.60px;top:522.70px;font-size:22px;color:rgba(0,0,0,0.88);letter-spacing:0.450px;-webkit-text-stroke:0.12px rgba(0,0,0,0.88)">30 days was 54.</div>
<div class="t" style="left:1112.20px;top:580.50px;font-size:29px;font-weight:700;color:#58b658;letter-spacing:0.800px">54</div>
<div class="t" style="left:1109.00px;top:698.70px;font-size:14px;color:rgba(0,0,0,0.38);letter-spacing:0.177px">30-day average</div>
</body></html>
